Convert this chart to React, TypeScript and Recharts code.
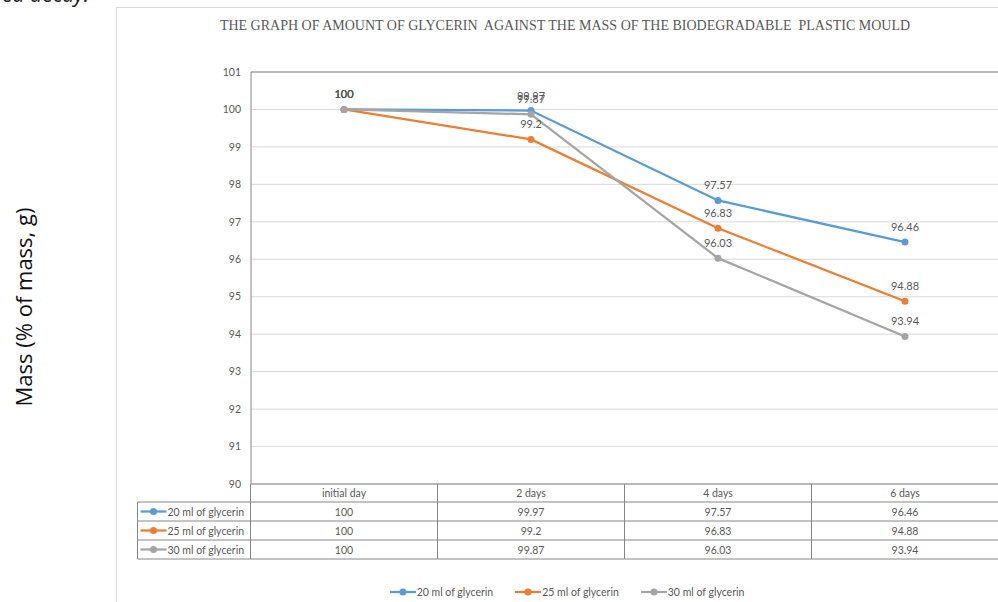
import React from 'react';
import { LineChart, Line, XAxis, YAxis, CartesianGrid, LabelList, ReferenceLine } from 'recharts';

const categories = ['initial day', '2 days', '4 days', '6 days'];
const glycerin20 = [100, 99.97, 97.57, 96.46];
const glycerin25 = [100, 99.2, 96.83, 94.88];
const glycerin30 = [100, 99.87, 96.03, 93.94];
const seriesNames = ['20 ml of glycerin', '25 ml of glycerin', '30 ml of glycerin'];
const yTicks = [90, 91, 92, 93, 94, 95, 96, 97, 98, 99, 100, 101];

const COLORS = ['#5b9bd5', '#ed7d31', '#a5a5a5'];
const SERIES = [glycerin20, glycerin25, glycerin30];
const TEXT = '#595959';
const LINE = '#868686';
const FONT = 'Lato, "Open Sans", sans-serif';

const data = categories.map((c, i) => ({
  name: c,
  s20: glycerin20[i],
  s25: glycerin25[i],
  s30: glycerin30[i],
}));

const HALF_COL = 93.5;
const HEAD_H = 18;
const ROW_H = 19;

const KeyIcon = ({ x, y, color }: { x: number; y: number; color: string }) => (
  <g>
    <line x1={x} x2={x + 26} y1={y} y2={y} stroke={color} strokeWidth={2.25} />
    <circle cx={x + 13} cy={y} r={3.5} fill={color} />
  </g>
);

// the data table under the plot, drawn from the x axis ticks
const TableTick = (props: any) => {
  const { x, y, payload, index } = props;
  const left = x - HALF_COL;
  const right = x + HALF_COL;
  const top = y;
  const bottom = top + HEAD_H + ROW_H * 3;
  const last = index === categories.length - 1;
  return (
    <g fontFamily={FONT} fontSize={10.5} fill={TEXT}>
      <line x1={left} x2={left} y1={top} y2={bottom} stroke={LINE} />
      {last && <line x1={right} x2={right} y1={top} y2={bottom} stroke={LINE} />}
      <text x={x} y={top + 13} textAnchor="middle" fill={TEXT}>{payload.value}</text>
      {[0, 1, 2, 3].map((r) => (
        <line key={r} x1={index === 0 ? left - 113 : left} x2={right}
          y1={top + HEAD_H + ROW_H * r} y2={top + HEAD_H + ROW_H * r} stroke={LINE} />
      ))}
      {SERIES.map((s, r) => (
        <text key={r} x={x} y={top + HEAD_H + ROW_H * r + 13.5} textAnchor="middle" fill={TEXT}>
          {s[index]}
        </text>
      ))}
      {index === 0 && (
        <g>
          <line x1={left - 113} x2={left - 113} y1={top + HEAD_H} y2={bottom} stroke={LINE} />
          {seriesNames.map((n, r) => (
            <g key={n}>
              <KeyIcon x={left - 110} y={top + HEAD_H + ROW_H * r + 9.5} color={COLORS[r]} />
              <text x={left - 83} y={top + HEAD_H + ROW_H * r + 13.5} fill={TEXT}>{n}</text>
            </g>
          ))}
        </g>
      )}
    </g>
  );
};

export default function App() {
  return (
    <div style={{ position: 'absolute', left: 0, top: 0, width: 998, height: 602, overflow: 'hidden', background: '#fff' }}>
      <div style={{ position: 'absolute', left: 2, top: -20, fontFamily: '"Open Sans", sans-serif', fontStyle: 'italic', fontSize: 21, color: '#222' }}>
        ed decay.
      </div>
      <div style={{ position: 'absolute', left: 116, top: 7, width: 900, height: 620, border: '1px solid #d9d9d9' }} />
      <div style={{
        position: 'absolute', left: 23, top: 307, transform: 'translate(-50%, -50%) rotate(-90deg)',
        whiteSpace: 'nowrap', fontFamily: '"Open Sans", sans-serif', fontSize: 22, color: '#111',
      }}>
        Mass (% of mass, g)
      </div>
      <div style={{
        position: 'absolute', left: 116, width: 898, top: 18, textAlign: 'center', whiteSpace: 'pre',
        fontFamily: '"Liberation Serif", serif', fontSize: 14, color: TEXT,
      }}>
        {'THE GRAPH OF AMOUNT OF GLYCERIN  AGAINST THE MASS OF THE BIODEGRADABLE  PLASTIC MOULD'}
      </div>
      <div style={{ position: 'absolute', left: 0, top: 0 }}>
        <LineChart width={998} height={602} data={data} margin={{ top: 72, right: 0, bottom: 88, left: 0 }}>
          <CartesianGrid vertical={false} stroke="#d9d9d9" />
          <XAxis dataKey="name" padding={{ left: 93, right: 93 }} axisLine={{ stroke: LINE }}
            tickLine={false} tickSize={0} tickMargin={0} tick={<TableTick />} interval={0} />
          <YAxis domain={[90, 101]} ticks={yTicks} width={251} axisLine={{ stroke: LINE }} tickLine={false}
            tickMargin={4} tick={{ fill: TEXT, fontSize: 10.5, fontFamily: FONT }} />
          <ReferenceLine y={101} stroke={LINE} />
          {(['s20', 's25', 's30'] as const).map((k, i) => (
            <Line key={k} dataKey={k} name={seriesNames[i]} stroke={COLORS[i]} strokeWidth={2.25}
              dot={{ r: 3.5, fill: COLORS[i], stroke: COLORS[i], strokeWidth: 0 }} isAnimationActive={false}>
              <LabelList dataKey={k} position="top" offset={11} fill={TEXT} fontSize={11} fontFamily={FONT} />
            </Line>
          ))}
        </LineChart>
      </div>
      <div style={{
        position: 'absolute', left: 0, width: 998 + 136, top: 585, display: 'flex', justifyContent: 'center',
        gap: 22, fontFamily: FONT, fontSize: 10.5, color: TEXT,
      }}>
        {seriesNames.map((n, i) => (
          <div key={n} style={{ display: 'flex', alignItems: 'center' }}>
            <svg width={27} height={14}><KeyIcon x={0} y={7} color={COLORS[i]} /></svg>
            <span>{n}</span>
          </div>
        ))}
      </div>
    </div>
  );
}
